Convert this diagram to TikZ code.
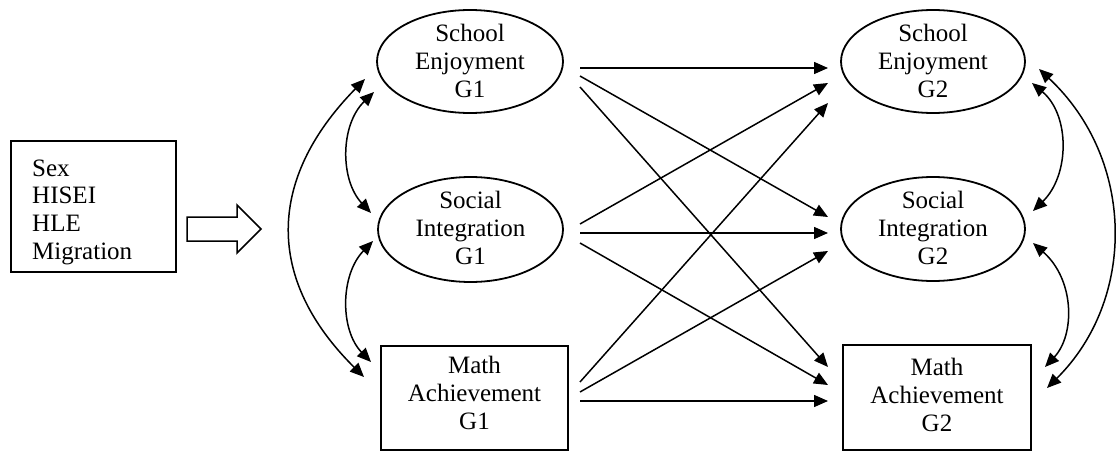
\documentclass[tikz,border=0pt]{standalone}
\usepackage{fontspec}
\setmainfont{Liberation Serif}
\usetikzlibrary{arrows.meta,shapes.geometric}
\begin{document}
\begin{tikzpicture}[x=1pt,y=-1pt,
  lat/.style={draw,ellipse,line width=1.8pt,inner sep=0pt},
  obs/.style={draw,rectangle,line width=1.8pt,inner sep=0pt},
  txt/.style={align=center,font=\fontsize{25}{28}\selectfont,inner sep=0pt},
  regpath/.style={line width=1.5pt,-{Triangle[length=14pt,width=12pt]}},
  covpath/.style={line width=1.5pt,{Triangle[length=14pt,width=12pt]}-{Triangle[length=14pt,width=12pt]}},
  blockarrow/.style={line width=1.5pt,line join=miter},
]
\useasboundingbox (0,0) rectangle (1116,452);

% covariates box
\node[obs,minimum width=165pt,minimum height=131pt] (ctrl) at (93.5,206.5) {};
\node[anchor=west,inner sep=0pt,align=left,font=\fontsize{25}{27.7}\selectfont] (ctrlt) at (32,212)
      {Sex\\HISEI\\HLE\\Migration};

% block arrow
\draw[blockarrow] (187,217) -- (237,217) -- (237,205) -- (261,229) -- (237,253) -- (237,241) -- (187,241) -- cycle;

% G1 constructs
\node[lat,minimum width=186pt,minimum height=103pt] (se1) at (470,61.5) {};
\node[txt] (se1t) at (470,61) {School\\Enjoyment\\G1};
\node[lat,minimum width=185pt,minimum height=105pt] (si1) at (470.5,229.5) {};
\node[txt] (si1t) at (470.5,228) {Social\\Integration\\G1};
\node[obs,minimum width=187pt,minimum height=104pt] (ma1) at (474.5,398) {};
\node[txt] (ma1t) at (474.5,393) {Math\\Achievement\\G1};

% G2 constructs
\node[lat,minimum width=184pt,minimum height=103pt] (se2) at (933,61.5) {};
\node[txt] (se2t) at (933,61) {School\\Enjoyment\\G2};
\node[lat,minimum width=184pt,minimum height=104pt] (si2) at (933,229) {};
\node[txt] (si2t) at (933,228) {Social\\Integration\\G2};
\node[obs,minimum width=188pt,minimum height=105pt] (ma2) at (937,397.5) {};
\node[txt] (ma2t) at (937,395) {Math\\Achievement\\G2};

% ports of the cross-lagged paths
\coordinate (se1a) at (580,68);  \coordinate (se1b) at (580,76);  \coordinate (se1c) at (580,87);
\coordinate (si1a) at (580,224); \coordinate (si1b) at (580,233); \coordinate (si1c) at (580,243);
\coordinate (ma1a) at (580,382); \coordinate (ma1b) at (580,392); \coordinate (ma1c) at (580,401);
\coordinate (se2a) at (828,68);  \coordinate (se2b) at (828,83);  \coordinate (se2c) at (828,103);
\coordinate (si2a) at (828,217); \coordinate (si2b) at (828,233); \coordinate (si2c) at (828,251);
\coordinate (ma2a) at (828,367); \coordinate (ma2b) at (828,385); \coordinate (ma2c) at (828,401);

\draw[regpath] (se1a) -- (se2a);
\draw[regpath] (se1b) -- (si2a);
\draw[regpath] (se1c) -- (ma2a);
\draw[regpath] (si1a) -- (se2b);
\draw[regpath] (si1b) -- (si2b);
\draw[regpath] (si1c) -- (ma2b);
\draw[regpath] (ma1a) -- (se2c);
\draw[regpath] (ma1b) -- (si2c);
\draw[regpath] (ma1c) -- (ma2c);

% covariance ports, left
\coordinate (lo1) at (365,79);  \coordinate (lo2) at (364,377);
\coordinate (la1) at (374,92);  \coordinate (la2) at (371,213);
\coordinate (lb1) at (373,241); \coordinate (lb2) at (371,362);
% covariance ports, right
\coordinate (ro1) at (1039,69);  \coordinate (ro2) at (1047,388);
\coordinate (ra1) at (1032,83);  \coordinate (ra2) at (1033,211);
\coordinate (rb1) at (1033,243); \coordinate (rb2) at (1045,367);

\draw[covpath] (lo1) .. controls (266,180) and (266,280) .. (lo2);
\draw[covpath] (la1) .. controls (340,125) and (340,180) .. (la2);
\draw[covpath] (lb1) .. controls (340,275) and (340,330) .. (lb2);

\draw[covpath] (ro1) .. controls (1136,160) and (1136,300) .. (ro2);
\draw[covpath] (ra1) .. controls (1070,115) and (1070,175) .. (ra2);
\draw[covpath] (rb1) .. controls (1075,280) and (1075,335) .. (rb2);
\end{tikzpicture}
\end{document}
